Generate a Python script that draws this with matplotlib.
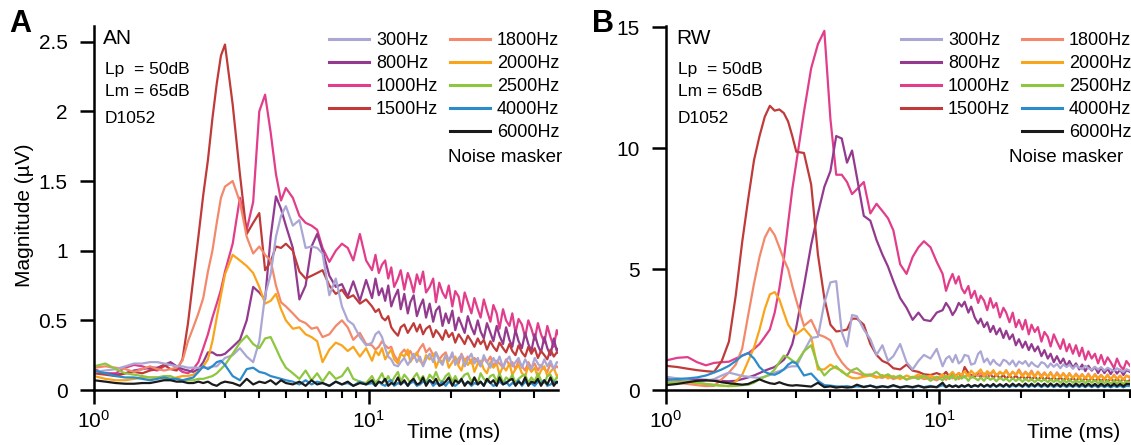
import matplotlib
matplotlib.use("Agg")
import matplotlib.pyplot as plt
from matplotlib.lines import Line2D
from matplotlib.ticker import FixedLocator, LogLocator, NullFormatter

plt.rcParams["font.family"] = ["Liberation Sans", "DejaVu Sans"]
plt.rcParams["mathtext.fontset"] = "custom"
plt.rcParams["mathtext.rm"] = "Liberation Sans"
plt.rcParams["mathtext.it"] = "Liberation Sans:italic"

# sample times (ms): coarse up to 10 ms, finer in the noisy tail
t_ms = [1.0, 1.1, 1.2, 1.3, 1.4, 1.5, 1.6, 1.7, 1.8, 1.9,
        2.0, 2.1, 2.2, 2.3, 2.4, 2.5, 2.6, 2.7, 2.8, 2.9,
        3.0, 3.2, 3.4, 3.6, 3.8, 4.0, 4.2, 4.4, 4.6, 4.8,
        5.0, 5.3, 5.6, 5.9, 6.2, 6.5, 6.8, 7.2, 7.6, 8.0,
        8.4, 8.8, 9.3, 9.8,
        10.3, 10.6, 10.9, 11.2, 11.5, 11.8, 12.1, 12.4, 12.8, 13.1,
        13.5, 13.9, 14.2, 14.6, 15.0, 15.4, 15.8, 16.2, 16.7, 17.2,
        17.6, 18.1, 18.6, 19.1, 19.6, 20.2, 20.7, 21.3, 21.8, 22.4,
        23.0, 23.7, 24.3, 25.0, 25.6, 26.3, 27.0, 27.8, 28.5, 29.3,
        30.0, 30.9, 31.7, 32.6, 33.4, 34.3, 35.2, 36.2, 37.2, 38.2,
        39.2, 40.3, 41.4, 42.5, 43.7, 44.8, 46.0, 47.3, 48.5, 50.0]

labels = ["300Hz", "800Hz", "1000Hz", "1500Hz", "1800Hz",
          "2000Hz", "2500Hz", "4000Hz", "6000Hz"]
colors = ["#aaa7d5", "#933a8f", "#e23d8b", "#c03a3a", "#f3896a",
          "#f9a51b", "#8dc63f", "#2b8bcb", "#1a1a1a"]

# ---- panel A: AN (uV) ----
a_300 = [0.13, 0.14, 0.15, 0.17, 0.19, 0.19, 0.2, 0.2, 0.19, 0.18,
         0.17, 0.17, 0.16, 0.16, 0.16, 0.16, 0.16, 0.17, 0.17, 0.2,
         0.23, 0.25, 0.3, 0.24, 0.2, 0.35, 0.68, 0.83, 1.1, 1.25,
         1.32, 1.18, 1.22, 1.02, 1.03, 1.02, 0.98, 0.68, 0.8, 0.6,
         0.5, 0.47, 0.38, 0.32,
         0.34, 0.4, 0.42, 0.38, 0.3, 0.24, 0.22, 0.18, 0.17, 0.2,
         0.23, 0.18, 0.21, 0.26, 0.2, 0.24, 0.17, 0.22, 0.26, 0.2,
         0.27, 0.21, 0.18, 0.25, 0.21, 0.27, 0.18, 0.23, 0.25, 0.17,
         0.22, 0.26, 0.19, 0.23, 0.17, 0.25, 0.2, 0.16, 0.23, 0.19,
         0.24, 0.16, 0.21, 0.24, 0.17, 0.2, 0.23, 0.16, 0.22, 0.18,
         0.15, 0.23, 0.19, 0.16, 0.22, 0.17, 0.21, 0.15, 0.2, 0.19]
a_800 = [0.13, 0.12, 0.11, 0.12, 0.14, 0.15, 0.16, 0.16, 0.18, 0.2,
         0.17, 0.15, 0.14, 0.13, 0.15, 0.2, 0.27, 0.27, 0.25, 0.25,
         0.26, 0.31, 0.36, 0.5, 0.74, 0.7, 0.65, 1.1, 1.39, 1.3,
         1.18, 1.02, 0.65, 0.75, 1.03, 1.12, 1.0, 0.82, 0.74, 0.76,
         0.67, 0.78, 0.64, 0.79,
         0.66, 0.8, 0.68, 0.73, 0.64, 0.75, 0.6, 0.66, 0.72, 0.58,
         0.69, 0.55, 0.63, 0.68, 0.53, 0.6, 0.65, 0.52, 0.62, 0.49,
         0.57, 0.6, 0.46, 0.55, 0.48, 0.57, 0.43, 0.52, 0.47, 0.41,
         0.53, 0.45, 0.4, 0.5, 0.42, 0.37, 0.48, 0.41, 0.35, 0.46,
         0.39, 0.33, 0.45, 0.36, 0.31, 0.43, 0.35, 0.3, 0.41, 0.33,
         0.28, 0.4, 0.32, 0.27, 0.38, 0.3, 0.25, 0.37, 0.28, 0.32]
a_1000 = [0.15, 0.12, 0.12, 0.16, 0.18, 0.17, 0.15, 0.14, 0.17, 0.19,
          0.16, 0.13, 0.12, 0.15, 0.2, 0.3, 0.4, 0.52, 0.62, 0.72,
          0.85, 1.05, 1.38, 1.15, 1.35, 2.0, 2.12, 1.85, 1.55, 1.36,
          1.45, 1.38, 1.25, 1.2, 1.18, 1.15, 1.02, 0.92, 1.0, 1.05,
          1.02, 0.93, 1.12, 0.93,
          0.86, 0.97, 0.84, 0.9, 0.93, 0.8, 0.88, 0.74, 0.8, 0.86,
          0.72, 0.84, 0.79, 0.7, 0.83, 0.76, 0.85, 0.7, 0.74, 0.8,
          0.63, 0.77, 0.7, 0.66, 0.75, 0.6, 0.71, 0.67, 0.56, 0.7,
          0.63, 0.55, 0.66, 0.58, 0.52, 0.65, 0.57, 0.49, 0.61, 0.55,
          0.44, 0.58, 0.5, 0.46, 0.55, 0.41, 0.51, 0.47, 0.38, 0.5,
          0.44, 0.36, 0.48, 0.4, 0.34, 0.46, 0.38, 0.31, 0.43, 0.36]
a_1500 = [0.12, 0.11, 0.1, 0.12, 0.13, 0.12, 0.14, 0.15, 0.18, 0.15,
          0.14, 0.22, 0.48, 0.8, 1.1, 1.4, 1.65, 1.95, 2.2, 2.4,
          2.48, 2.05, 1.55, 1.12, 1.2, 1.27, 0.86, 0.92, 1.03, 1.02,
          1.05, 1.0, 0.85, 0.8, 0.82, 0.84, 0.86, 0.75, 0.69, 0.72,
          0.66, 0.68, 0.62, 0.65,
          0.6, 0.56, 0.58, 0.52, 0.5, 0.53, 0.45, 0.42, 0.39, 0.45,
          0.47, 0.41, 0.44, 0.48, 0.42, 0.47, 0.4, 0.44, 0.46, 0.38,
          0.43, 0.4, 0.36, 0.43, 0.38, 0.41, 0.34, 0.4, 0.37, 0.33,
          0.39, 0.35, 0.31, 0.37, 0.33, 0.36, 0.29, 0.35, 0.31, 0.28,
          0.34, 0.3, 0.27, 0.33, 0.28, 0.25, 0.32, 0.27, 0.24, 0.31,
          0.26, 0.3, 0.23, 0.28, 0.25, 0.22, 0.29, 0.24, 0.27, 0.26]
a_1800 = [0.16, 0.17, 0.16, 0.15, 0.13, 0.15, 0.17, 0.15, 0.14, 0.15,
          0.16, 0.21, 0.35, 0.45, 0.55, 0.66, 0.85, 1.0, 1.2, 1.38,
          1.46, 1.5, 1.35, 1.1, 0.98, 1.03, 0.97, 0.93, 0.75, 0.63,
          0.6, 0.55, 0.5, 0.48, 0.44, 0.45, 0.38, 0.4, 0.46, 0.5,
          0.45, 0.36, 0.41, 0.33,
          0.32, 0.29, 0.31, 0.35, 0.32, 0.3, 0.31, 0.25, 0.21, 0.26,
          0.29, 0.25, 0.28, 0.23, 0.26, 0.3, 0.33, 0.27, 0.3, 0.25,
          0.27, 0.22, 0.25, 0.27, 0.21, 0.25, 0.22, 0.19, 0.26, 0.21,
          0.24, 0.19, 0.23, 0.2, 0.17, 0.23, 0.2, 0.24, 0.17, 0.21,
          0.19, 0.16, 0.22, 0.18, 0.2, 0.15, 0.21, 0.17, 0.14, 0.2,
          0.16, 0.19, 0.14, 0.18, 0.15, 0.13, 0.19, 0.15, 0.17, 0.15]
a_2000 = [0.1, 0.08, 0.07, 0.07, 0.08, 0.09, 0.09, 0.09, 0.08, 0.08,
          0.09, 0.1, 0.1, 0.11, 0.13, 0.17, 0.22, 0.35, 0.52, 0.68,
          0.83, 0.97, 0.93, 0.89, 0.84, 0.74, 0.62, 0.64, 0.69, 0.58,
          0.5, 0.44, 0.45, 0.4, 0.38, 0.35, 0.2, 0.29, 0.34, 0.32,
          0.28, 0.31, 0.24, 0.3,
          0.21, 0.28, 0.25, 0.3, 0.22, 0.26, 0.29, 0.22, 0.19, 0.26,
          0.24, 0.29, 0.2, 0.24, 0.27, 0.21, 0.18, 0.25, 0.22, 0.26,
          0.16, 0.22, 0.2, 0.25, 0.16, 0.2, 0.24, 0.17, 0.14, 0.22,
          0.18, 0.22, 0.13, 0.19, 0.21, 0.15, 0.12, 0.2, 0.16, 0.19,
          0.11, 0.17, 0.14, 0.19, 0.11, 0.15, 0.18, 0.12, 0.1, 0.17,
          0.13, 0.16, 0.09, 0.14, 0.17, 0.1, 0.13, 0.16, 0.1, 0.12]
a_2500 = [0.17, 0.19, 0.15, 0.12, 0.11, 0.1, 0.09, 0.09, 0.1, 0.1,
          0.08, 0.07, 0.07, 0.07, 0.08, 0.08, 0.09, 0.1, 0.12, 0.15,
          0.18, 0.26, 0.34, 0.39, 0.33, 0.3, 0.37, 0.38, 0.3, 0.22,
          0.16, 0.12, 0.08, 0.14, 0.07, 0.12, 0.06, 0.13, 0.08, 0.1,
          0.16, 0.08, 0.06, 0.05,
          0.1, 0.05, 0.08, 0.12, 0.06, 0.1, 0.05, 0.09, 0.13, 0.06,
          0.11, 0.08, 0.05, 0.09, 0.12, 0.07, 0.1, 0.05, 0.11, 0.08,
          0.13, 0.07, 0.06, 0.1, 0.12, 0.06, 0.1, 0.05, 0.08, 0.11,
          0.12, 0.06, 0.09, 0.05, 0.12, 0.08, 0.06, 0.1, 0.11, 0.06,
          0.12, 0.05, 0.09, 0.07, 0.11, 0.05, 0.08, 0.1, 0.11, 0.05,
          0.09, 0.06, 0.12, 0.07, 0.05, 0.1, 0.11, 0.06, 0.09, 0.08]
a_4000 = [0.14, 0.12, 0.1, 0.09, 0.09, 0.08, 0.07, 0.08, 0.09, 0.08,
          0.08, 0.07, 0.08, 0.09, 0.13, 0.17, 0.15, 0.17, 0.2, 0.21,
          0.18, 0.1, 0.07, 0.15, 0.16, 0.13, 0.12, 0.1, 0.09, 0.08,
          0.07, 0.06, 0.04, 0.07, 0.04, 0.06, 0.05, 0.03, 0.06, 0.04,
          0.05, 0.03, 0.06, 0.04,
          0.05, 0.03, 0.06, 0.04, 0.03, 0.06, 0.07, 0.03, 0.05, 0.04,
          0.06, 0.03, 0.05, 0.06, 0.03, 0.04, 0.06, 0.05, 0.07, 0.03,
          0.05, 0.04, 0.06, 0.03, 0.06, 0.04, 0.03, 0.05, 0.07, 0.04,
          0.06, 0.03, 0.05, 0.04, 0.06, 0.03, 0.07, 0.05, 0.03, 0.04,
          0.06, 0.04, 0.06, 0.03, 0.05, 0.04, 0.07, 0.03, 0.06, 0.04,
          0.05, 0.03, 0.06, 0.05, 0.07, 0.03, 0.04, 0.06, 0.05, 0.05]
a_6000 = [0.07, 0.06, 0.05, 0.045, 0.045, 0.05, 0.05, 0.06, 0.07, 0.07,
          0.06, 0.06, 0.05, 0.05, 0.06, 0.05, 0.06, 0.04, 0.03, 0.05,
          0.06, 0.05, 0.03, 0.08, 0.04, 0.06, 0.05, 0.07, 0.04, 0.07,
          0.05, 0.04, 0.06, 0.03, 0.07, 0.04, 0.05, 0.03, 0.06, 0.04,
          0.06, 0.03, 0.05, 0.04,
          0.07, 0.03, 0.06, 0.05, 0.08, 0.03, 0.05, 0.04, 0.09, 0.04,
          0.07, 0.03, 0.06, 0.08, 0.04, 0.05, 0.09, 0.03, 0.07, 0.05,
          0.08, 0.03, 0.04, 0.06, 0.09, 0.03, 0.07, 0.05, 0.08, 0.03,
          0.06, 0.04, 0.09, 0.04, 0.06, 0.03, 0.08, 0.05, 0.07, 0.03,
          0.09, 0.04, 0.05, 0.07, 0.08, 0.03, 0.06, 0.04, 0.09, 0.03,
          0.06, 0.05, 0.08, 0.03, 0.07, 0.04, 0.09, 0.03, 0.06, 0.05]

# ---- panel B: RW (uV) ----
b_300 = [0.55, 0.48, 0.4, 0.35, 0.38, 0.45, 0.6, 0.72, 0.65, 0.58,
         0.55, 0.52, 0.5, 0.55, 0.62, 0.72, 0.78, 0.85, 0.95, 0.98,
         0.98, 1.6, 2.15, 2.2, 3.6, 4.45, 4.5, 2.4, 1.8, 3.1,
         3.05, 2.5, 2.1, 1.45, 1.85, 1.2, 1.4, 1.9, 1.15, 0.85,
         1.2, 1.45, 1.3, 1.7,
         0.98, 1.3, 1.4, 1.15, 1.45, 1.1, 1.2, 1.45, 1.4, 1.05,
         1.1, 1.5, 1.6, 1.15, 1.3, 1.05, 1.25, 1.1, 1.0, 1.25,
         1.2, 1.05, 1.22, 0.98, 1.18, 1.08, 1.2, 0.98, 1.15, 1.02,
         0.95, 1.15, 1.1, 0.93, 1.1, 0.96, 1.08, 0.9, 1.06, 0.95,
         1.05, 0.88, 1.02, 0.92, 0.86, 1.0, 0.9, 0.84, 0.96, 0.85,
         0.95, 0.8, 0.92, 0.85, 0.78, 0.9, 0.82, 0.75, 0.86, 0.8]
b_800 = [0.45, 0.43, 0.42, 0.43, 0.42, 0.4, 0.37, 0.36, 0.38, 0.45,
         0.52, 0.6, 0.7, 0.8, 0.88, 0.95, 1.1, 1.25, 1.5, 1.9,
         2.6, 4.3, 6.0, 7.3, 8.4, 9.05, 10.5, 10.4, 9.4, 9.9,
         8.8, 7.2, 7.0, 6.2, 5.6, 5.1, 4.5, 3.8, 3.4, 2.9,
         3.2, 2.9, 2.85, 3.2,
         3.3, 3.6, 3.4, 3.1, 3.3, 3.6, 3.45, 3.65, 3.2, 3.45,
         3.0, 2.75, 2.95, 2.6, 2.8, 2.4, 2.65, 2.3, 2.55, 2.15,
         2.45, 2.1, 2.3, 1.85, 2.1, 1.75, 2.0, 1.65, 1.9, 1.6,
         1.8, 1.4, 1.65, 1.3, 1.5, 1.15, 1.4, 1.1, 1.3, 0.98,
         1.2, 0.92, 1.1, 0.85, 1.05, 0.78, 1.0, 0.8, 0.95, 0.7,
         0.92, 0.7, 0.88, 0.66, 0.86, 0.68, 0.84, 0.62, 0.82, 0.75]
b_1000 = [1.22, 1.33, 1.36, 1.15, 1.02, 1.12, 1.15, 1.17, 1.3, 1.42,
          1.52, 1.7, 1.9, 2.2, 2.5, 3.2, 4.2, 5.4, 6.9, 8.3,
          9.4, 11.5, 13.3, 14.3, 14.85, 11.2, 8.9, 8.9, 8.6, 8.1,
          8.3, 8.6, 7.3, 7.7, 7.4, 7.1, 6.6, 5.2, 4.8, 5.5,
          5.9, 6.15, 5.9, 5.3,
          4.8, 4.1, 4.5, 4.8, 4.4, 4.7, 4.2, 4.0, 4.3, 3.8,
          4.1, 3.6, 3.9, 3.7, 3.3, 3.8, 3.4, 3.6, 3.0, 3.4,
          3.2, 2.8, 3.2, 2.6, 2.9, 2.5, 2.9, 2.3, 2.7, 2.4,
          2.6, 2.0, 2.4, 2.2, 1.8, 2.3, 2.0, 1.7, 2.1, 1.6,
          1.9, 1.5, 1.85, 1.4, 1.75, 1.25, 1.6, 1.3, 1.5, 1.1,
          1.45, 1.05, 1.35, 1.15, 0.9, 1.3, 1.0, 0.85, 1.2, 1.0]
b_1500 = [1.0, 0.95, 0.88, 0.82, 0.78, 0.75, 1.2, 2.0, 3.9, 6.1,
          7.9, 9.5, 10.5, 11.3, 11.75, 11.55, 11.6, 11.45, 11.1, 10.5,
          9.85, 9.8, 8.5, 5.6, 3.8, 2.7, 2.42, 2.45, 2.5, 2.95,
          2.95, 2.7, 1.9, 1.45, 1.2, 1.1, 0.9, 0.85, 1.05, 0.8,
          0.75, 0.65, 0.62, 0.7,
          0.6, 0.75, 0.55, 0.72, 0.58, 0.7, 0.55, 0.95, 0.7, 0.62,
          0.55, 0.7, 0.52, 0.68, 0.5, 0.66, 0.5, 0.64, 0.48, 0.62,
          0.47, 0.6, 0.46, 0.6, 0.45, 0.58, 0.44, 0.58, 0.43, 0.56,
          0.42, 0.56, 0.42, 0.54, 0.41, 0.53, 0.4, 0.52, 0.4, 0.52,
          0.39, 0.5, 0.39, 0.5, 0.38, 0.48, 0.38, 0.48, 0.37, 0.47,
          0.37, 0.47, 0.36, 0.46, 0.36, 0.46, 0.35, 0.45, 0.35, 0.4]
b_1800 = [0.33, 0.3, 0.25, 0.2, 0.16, 0.17, 0.45, 0.72, 1.05, 1.7,
          3.1, 4.4, 5.5, 6.3, 6.7, 6.4, 5.9, 5.4, 5.0, 4.3,
          3.7, 2.65, 2.9, 2.3, 2.2, 2.05, 1.5, 1.15, 0.9, 0.75,
          0.7, 0.6, 0.65, 0.55, 0.5, 0.6, 0.45, 0.55, 0.45, 0.5,
          0.55, 0.45, 0.5, 0.4,
          0.55, 0.42, 0.6, 0.48, 0.62, 0.45, 0.6, 0.52, 0.68, 0.5,
          0.65, 0.58, 0.72, 0.55, 0.68, 0.62, 0.78, 0.58, 0.72, 0.65,
          0.82, 0.6, 0.75, 0.63, 0.85, 0.6, 0.76, 0.62, 0.8, 0.56,
          0.76, 0.58, 0.73, 0.55, 0.74, 0.52, 0.73, 0.55, 0.7, 0.52,
          0.7, 0.48, 0.68, 0.52, 0.66, 0.48, 0.68, 0.46, 0.66, 0.48,
          0.63, 0.46, 0.64, 0.44, 0.63, 0.46, 0.6, 0.43, 0.6, 0.5]
b_2000 = [0.27, 0.28, 0.3, 0.28, 0.25, 0.22, 0.18, 0.16, 0.35, 0.62,
          1.2, 1.75, 2.5, 3.35, 3.95, 4.05, 3.75, 3.2, 2.7, 2.45,
          2.3, 2.55, 2.2, 0.85, 0.85, 1.05, 0.9, 0.8, 0.6, 0.5,
          0.48, 0.55, 0.6, 0.5, 0.62, 0.48, 0.58, 0.45, 0.6, 0.5,
          0.65, 0.5, 0.6, 0.48,
          0.65, 0.5, 0.62, 0.75, 0.55, 0.7, 0.62, 0.78, 0.56, 0.8,
          0.64, 0.74, 0.85, 0.6, 0.78, 0.67, 0.82, 0.6, 0.76, 0.64,
          0.8, 0.56, 0.76, 0.62, 0.78, 0.55, 0.73, 0.57, 0.72, 0.54,
          0.74, 0.52, 0.68, 0.55, 0.7, 0.5, 0.66, 0.52, 0.68, 0.47,
          0.66, 0.5, 0.64, 0.46, 0.64, 0.48, 0.62, 0.45, 0.62, 0.46,
          0.6, 0.44, 0.61, 0.43, 0.6, 0.45, 0.57, 0.42, 0.58, 0.55]
b_2500 = [0.3, 0.33, 0.35, 0.3, 0.25, 0.2, 0.18, 0.16, 0.17, 0.2,
          0.22, 0.3, 0.45, 0.55, 0.65, 0.85, 1.15, 1.42, 1.35, 1.22,
          1.12, 1.6, 1.85, 1.0, 0.6, 0.85, 0.98, 0.75, 0.62, 0.82,
          0.9, 0.65, 0.6, 0.75, 0.55, 0.65, 0.5, 0.6, 0.42, 0.55,
          0.45, 0.6, 0.38, 0.55,
          0.4, 0.6, 0.45, 0.62, 0.42, 0.55, 0.47, 0.58, 0.38, 0.55,
          0.5, 0.4, 0.52, 0.38, 0.55, 0.42, 0.5, 0.36, 0.52, 0.4,
          0.48, 0.35, 0.5, 0.37, 0.48, 0.34, 0.47, 0.36, 0.46, 0.32,
          0.46, 0.35, 0.45, 0.32, 0.44, 0.33, 0.44, 0.3, 0.43, 0.31,
          0.43, 0.3, 0.41, 0.31, 0.42, 0.28, 0.41, 0.3, 0.4, 0.28,
          0.39, 0.29, 0.39, 0.26, 0.38, 0.28, 0.38, 0.25, 0.37, 0.3]
b_4000 = [0.4, 0.46, 0.48, 0.52, 0.6, 0.72, 0.85, 1.0, 1.2, 1.42,
          1.53, 1.3, 0.95, 0.75, 0.66, 0.63, 0.72, 0.85, 1.05, 1.16,
          1.1, 0.6, 0.68, 0.38, 0.2, 0.18, 0.15, 0.14, 0.16, 0.12,
          0.15, 0.13, 0.18, 0.12, 0.16, 0.11, 0.17, 0.12, 0.15, 0.1,
          0.16, 0.12, 0.17, 0.11,
          0.2, 0.12, 0.18, 0.13, 0.19, 0.12, 0.17, 0.13, 0.2, 0.12,
          0.19, 0.14, 0.22, 0.13, 0.2, 0.12, 0.21, 0.14, 0.2, 0.13,
          0.22, 0.12, 0.2, 0.14, 0.21, 0.13, 0.22, 0.12, 0.2, 0.14,
          0.21, 0.12, 0.2, 0.13, 0.21, 0.12, 0.2, 0.13, 0.2, 0.12,
          0.19, 0.13, 0.2, 0.12, 0.19, 0.12, 0.2, 0.12, 0.19, 0.11,
          0.19, 0.12, 0.18, 0.11, 0.18, 0.12, 0.18, 0.11, 0.17, 0.16]
b_6000 = [0.2, 0.25, 0.32, 0.38, 0.4, 0.38, 0.32, 0.28, 0.25, 0.22,
          0.25, 0.35, 0.44, 0.35, 0.28, 0.25, 0.32, 0.25, 0.2, 0.18,
          0.2, 0.17, 0.14, 0.3, 0.12, 0.15, 0.1, 0.13, 0.1, 0.12,
          0.22, 0.12, 0.18, 0.1, 0.15, 0.12, 0.2, 0.1, 0.16, 0.12,
          0.18, 0.1, 0.14, 0.12,
          0.3, 0.12, 0.2, 0.13, 0.18, 0.12, 0.2, 0.14, 0.22, 0.13,
          0.2, 0.15, 0.24, 0.14, 0.22, 0.15, 0.25, 0.14, 0.24, 0.15,
          0.25, 0.15, 0.26, 0.16, 0.25, 0.15, 0.27, 0.16, 0.26, 0.15,
          0.27, 0.16, 0.26, 0.15, 0.27, 0.16, 0.26, 0.15, 0.27, 0.16,
          0.26, 0.15, 0.27, 0.16, 0.26, 0.15, 0.26, 0.16, 0.25, 0.15,
          0.26, 0.16, 0.25, 0.15, 0.26, 0.16, 0.25, 0.15, 0.25, 0.24]

series_a = [a_300, a_800, a_1000, a_1500, a_1800, a_2000, a_2500, a_4000, a_6000]
series_b = [b_300, b_800, b_1000, b_1500, b_1800, b_2000, b_2500, b_4000, b_6000]
draw_order = [2, 1, 3, 4, 5, 0, 6, 7, 8]

W, H = 1131, 445
fig = plt.figure(figsize=(W / 100, H / 100), dpi=100)


def px(x, y):
    return x / W, 1 - y / H


def make_panel(rect, series, ylim, yticks, yticklabels, xmax):
    ax = fig.add_axes(rect)
    lines = {}
    for i in draw_order:
        (ln,) = ax.plot(t_ms, series[i], color=colors[i], lw=1.6, label=labels[i])
        lines[i] = ln
    ax.set_xscale("log")
    ax.set_xlim(1, xmax)
    ax.set_ylim(*ylim)
    ax.set_yticks(yticks)
    ax.set_yticklabels(yticklabels)
    ax.xaxis.set_major_locator(FixedLocator([1, 10]))
    ax.xaxis.set_minor_locator(LogLocator(base=10, subs=range(2, 10)))
    ax.xaxis.set_minor_formatter(NullFormatter())
    for s in ("top", "right"):
        ax.spines[s].set_visible(False)
    for s in ("left", "bottom"):
        ax.spines[s].set_linewidth(1.8)
    ax.tick_params(which="major", direction="out", length=10, width=1.8,
                   labelsize=15)
    ax.tick_params(which="minor", direction="out", length=6, width=1.5)
    ax.tick_params(axis="y", pad=9)
    ax.tick_params(axis="x", which="major", pad=4)
    return ax, lines


ax_a, lines_a = make_panel([94 / W, 55 / H, 464 / W, 364 / H], series_a,
                           (0, 2.613), [0, 0.5, 1, 1.5, 2, 2.5],
                           ["0", "0.5", "1", "1.5", "2", "2.5"], 49)
ax_b, lines_b = make_panel([666 / W, 55 / H, 464 / W, 364 / H], series_b,
                           (0, 15.05), [0, 5, 10, 15],
                           ["0", "5", "10", "15"], 50)

for ax, right in ((ax_a, 0.875), (ax_b, 0.978)):
    ax.text(right, -0.132, "Time (ms)", transform=ax.transAxes,
            ha="right", va="baseline", fontsize=15)

fig.text(*px(25, 215), "Magnitude (µV)", rotation=90, ha="center",
         va="center", fontsize=15)
fig.text(*px(9, 32), "A", fontsize=22, fontweight="bold", va="baseline")
fig.text(*px(592, 32), "B", fontsize=22, fontweight="bold", va="baseline")

for x0, name in ((103, "AN"), (676, "RW")):
    fig.text(*px(x0, 44), name, fontsize=15, va="baseline")
    fig.text(*px(x0 + 2, 74), "Lp  = 50dB", fontsize=12.5, va="baseline")
    fig.text(*px(x0 + 2, 95.5), "Lm = 65dB", fontsize=12.5, va="baseline")
    fig.text(*px(x0 + 2, 122.7), "D1052", fontsize=12.5, va="baseline")

blank = Line2D([], [], color="none")
for ax, lines, x_leg, x_noise in ((ax_a, lines_a, 329, 448),
                                  (ax_b, lines_b, 901, 1009)):
    handles = [lines[0], lines[1], lines[2], lines[3], blank,
               lines[4], lines[5], lines[6], lines[7], lines[8]]
    names = labels[:4] + [""] + labels[4:]
    leg = ax.legend(handles, names, ncol=2, loc="upper left",
                    bbox_to_anchor=px(x_leg, 32), bbox_transform=fig.transFigure,
                    frameon=False, fontsize=13, handlelength=2.2,
                    handletextpad=0.4, columnspacing=0.65, labelspacing=0.33,
                    borderpad=0, borderaxespad=0)
    for h in leg.get_lines():
        h.set_linewidth(2.2)
    fig.text(*px(x_noise, 161.7), "Noise masker", fontsize=13.5,
             va="baseline")

fig.savefig("out.png", dpi=100)
